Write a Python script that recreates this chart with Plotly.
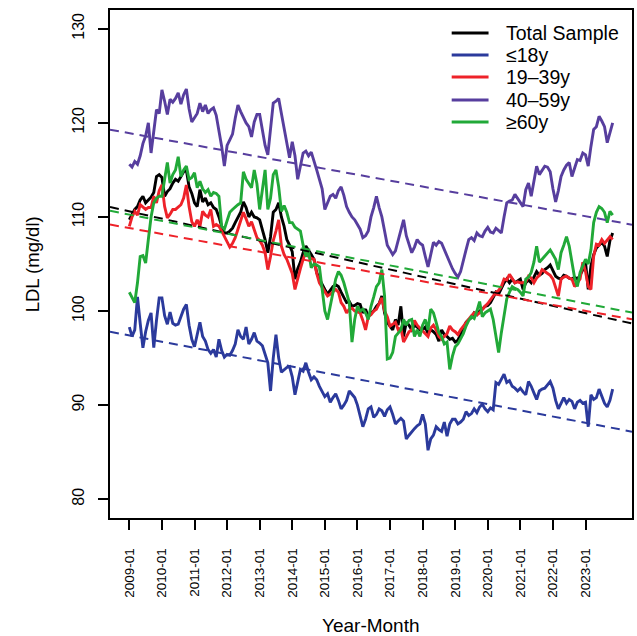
import numpy as np
import plotly.graph_objects as go

# ---------------- data (monthly means, 2009-01 .. 2023-11) ----------------
year_ticks = ["2009-01", "2010-01", "2011-01", "2012-01", "2013-01", "2014-01",
              "2015-01", "2016-01", "2017-01", "2018-01", "2019-01", "2020-01",
              "2021-01", "2022-01", "2023-01"]

total = [
    109.7, 110.3, 110.8, 111.1, 111.8, 112.2, 111.5, 111.8, 112.1, 112.6, 114.3, 114.5,  # 2009
    114.2, 112.2, 112.7, 113.0, 113.6, 114.0, 113.8, 114.3, 114.8, 115.0, 113.2, 112.5,  # 2010
    111.5, 111.1, 112.9, 111.6, 112.0, 111.3, 111.5, 111.0, 110.8, 110.0, 109.0, 108.3,  # 2011
    108.3, 108.5, 108.8, 109.4, 110.0, 110.5, 111.6, 111.0, 110.0, 110.5, 110.0, 109.9,  # 2012
    109.7, 108.7, 107.6, 106.2, 107.9, 110.5, 110.8, 111.5, 110.0, 109.0, 107.6, 107.0,  # 2013
    106.3, 103.4, 104.5, 105.2, 106.2, 106.9, 106.5, 106.0, 105.5, 104.1, 103.4, 102.8,  # 2014
    102.3, 101.8, 102.2, 102.6, 102.8, 102.6, 102.0, 101.5, 100.9, 101.0, 100.5, 100.6,  # 2015
    100.8, 100.7, 99.8, 100.2, 99.4, 99.8, 100.0, 100.5, 100.8, 101.6, 99.8, 98.8,       # 2016
    98.4, 98.0, 99.1, 98.5, 100.5, 97.3, 98.8, 98.5, 98.0, 98.5, 98.3, 98.0,             # 2017
    98.0, 98.3, 97.6, 98.0, 97.8, 97.5, 96.8, 98.0, 97.5, 97.3, 97.0, 97.1,              # 2018
    96.7, 96.9, 97.5, 98.2, 98.8, 99.1, 99.3, 99.8, 99.6, 100.0, 100.2, 100.5,           # 2019
    100.6, 100.9, 101.5, 102.0, 101.8, 102.5, 103.0, 103.4, 103.0, 103.4, 103.0, 103.2,  # 2020
    103.4, 102.3, 103.0, 103.3, 103.0, 103.6, 104.2, 103.8, 104.0, 104.4, 104.6, 104.9,  # 2021
    104.3, 103.7, 103.5, 103.4, 103.8, 103.7, 103.5, 103.4, 103.6, 103.4, 103.8, 104.4,  # 2022
    105.2, 102.3, 104.8, 106.0, 106.7, 107.0, 107.3, 106.9, 105.8, 107.5, 108.3,         # 2023
]

age_le18 = [
    98.3, 97.3, 98.0, 101.5, 98.7, 96.1, 97.8, 99.0, 99.8, 96.1, 99.0, 101.4,
    101.4, 99.5, 98.6, 99.9, 98.7, 98.5, 98.6, 99.5, 100.2, 100.7, 98.5, 97.0,
    96.2, 97.5, 98.8, 97.3, 96.8, 95.9, 95.5, 95.9, 95.1, 97.0, 95.8, 95.1,
    95.4, 95.3, 95.8, 96.5, 98.0, 97.3, 97.0, 98.3, 96.5, 97.0, 97.7, 96.8,
    96.6, 96.3, 95.5, 94.5, 91.5, 95.0, 97.5, 95.0, 93.5, 93.8, 94.0, 94.1,
    93.0, 91.1, 92.5, 93.8, 93.6, 94.5, 93.5, 92.7, 93.0, 92.7, 92.0, 91.5,
    90.9, 91.2, 90.3, 90.8, 91.2, 90.5, 89.6, 90.0, 90.5, 91.5, 91.2, 90.8,
    90.0, 88.8, 87.7, 88.5, 89.6, 89.8, 88.7, 89.0, 89.6, 89.4, 88.8, 89.5,
    89.8, 89.0, 88.0, 88.3, 88.6, 88.3, 86.4, 86.8, 87.2, 87.5, 87.8, 88.0,
    89.0, 88.0, 85.2, 86.4, 86.8, 87.7, 87.4, 87.2, 88.2, 86.7, 88.0, 88.5,
    88.5, 88.0, 88.2, 88.5, 89.3, 88.9, 89.1, 89.6, 89.2, 89.8, 90.1, 89.6,
    89.3, 89.7, 89.5, 92.4, 92.2, 92.8, 93.3, 92.4, 92.6, 92.0, 91.8, 91.5,
    91.8, 91.4, 91.1, 92.5, 92.0, 91.3, 90.6, 91.5, 91.7, 91.8, 92.2, 92.5,
    91.8, 90.5, 89.6, 90.2, 90.8, 90.2, 90.6, 90.4, 89.6, 90.3, 90.5, 90.2,
    90.3, 87.7, 91.1, 90.6, 90.8, 91.7, 91.0, 90.2, 89.8, 90.5, 91.7,
]

age_19_39 = [
    109.0, 110.0, 110.6, 110.2, 111.3, 111.0, 110.8, 111.0, 111.0, 112.2, 111.5, 112.8,
    113.4, 111.1, 109.9, 110.3, 110.8, 110.8, 111.1, 111.3, 112.0, 113.4, 111.1, 109.5,
    109.0, 109.7, 109.0, 110.6, 110.2, 110.0, 110.8, 109.0, 109.2, 109.0, 108.5, 107.9,
    107.3, 106.8, 107.2, 107.8, 108.7, 109.5, 110.5, 109.8, 109.0, 109.5, 108.7, 107.8,
    107.5, 107.0, 106.2, 104.4, 105.8, 107.5, 108.5, 109.7, 106.9, 106.0, 105.5, 104.8,
    104.0, 102.3, 103.5, 104.5, 105.5, 106.2, 105.8, 105.6, 105.5, 104.0, 103.0, 102.5,
    102.0, 101.6, 101.8, 102.1, 102.3, 102.0, 100.9, 100.5, 99.8, 100.2, 100.3, 100.0,
    99.9, 99.8, 99.0, 98.0, 99.4, 99.6, 100.0, 100.2, 100.8, 101.4, 100.0, 99.4,
    98.4, 98.6, 98.8, 98.0, 98.2, 96.7, 97.3, 97.8, 98.0, 99.0, 98.5, 98.2,
    98.0, 97.6, 97.3, 98.2, 98.5, 98.0, 97.3, 97.0, 97.3, 97.6, 98.4, 98.0,
    97.8, 97.5, 98.0, 98.4, 98.8, 99.1, 99.5, 99.8, 99.6, 99.8, 100.2, 100.5,
    100.8, 101.2, 101.5, 102.0, 102.2, 102.6, 103.4, 103.3, 103.9, 103.5, 103.0, 103.1,
    103.0, 103.0, 103.1, 103.7, 103.5, 103.0, 103.5, 103.8, 104.4, 104.2, 104.0, 103.8,
    103.4, 102.5, 101.6, 103.4, 103.6, 103.7, 103.5, 103.4, 102.6, 103.0, 103.4, 105.2,
    104.2, 102.6, 102.3, 105.8, 107.1, 107.0, 107.6, 107.2, 107.5, 107.9, 107.6,
]

age_40_59 = [
    115.6, 115.3, 115.9, 115.6, 116.5, 117.8, 118.6, 120.0, 116.8, 119.2, 121.4, 121.0,
    123.5, 122.3, 120.9, 122.5, 122.2, 122.6, 123.2, 122.0, 123.0, 123.6, 121.5, 120.1,
    120.5, 121.0, 122.1, 121.2, 121.9, 121.0, 121.4, 121.6, 120.8, 119.3, 117.5, 115.4,
    117.6, 118.2, 118.8, 120.5, 121.9, 121.2, 120.6, 120.0, 119.6, 118.5, 120.1, 120.9,
    120.9, 119.2, 117.6, 116.6, 119.5, 122.1, 122.3, 122.6, 121.0, 119.3, 118.0, 116.3,
    118.0, 116.5, 114.0, 115.5, 116.8, 117.0, 116.5, 116.9, 115.8, 115.0, 114.0, 113.0,
    110.8, 111.5, 112.2, 112.4, 112.0, 112.8, 113.2, 112.3, 111.1, 110.5, 110.0, 109.7,
    109.2, 108.7, 107.8, 108.0, 108.5, 110.0, 111.0, 112.2, 111.0, 110.0, 108.5, 107.0,
    106.5, 106.0, 106.4, 107.5, 108.5, 109.7, 108.0, 107.0, 106.2, 106.8, 107.6, 107.2,
    107.0, 105.8, 104.7, 106.0, 107.3, 107.0, 107.4, 107.2, 106.5, 106.0, 105.2, 104.5,
    104.0, 103.6, 104.2, 105.5, 106.5, 107.6, 107.8, 107.5, 108.3, 108.0, 107.9, 108.5,
    108.9, 108.4, 108.3, 108.8, 108.5, 108.3, 110.0, 111.5, 111.7, 111.8, 112.4, 112.0,
    111.5, 111.1, 112.9, 113.6, 112.2, 113.8, 115.4, 114.5, 115.0, 115.4, 115.3, 114.8,
    113.0, 111.6, 112.8, 114.3, 115.0, 115.5, 115.8, 114.3, 115.2, 116.1, 116.0, 116.8,
    116.6, 115.4, 117.5, 119.3, 119.6, 120.7, 120.2, 119.6, 117.9, 119.0, 120.0,
]

age_ge60 = [
    102.0, 101.4, 100.9, 103.0, 105.8, 105.9, 105.1, 107.6, 110.0, 111.5, 112.0, 112.2,
    112.2, 114.0, 115.8, 113.6, 114.5, 115.0, 116.4, 114.3, 115.0, 115.4, 114.0, 114.2,
    114.7, 113.1, 113.8, 113.0, 112.6, 112.9, 112.2, 112.6, 112.5, 112.2, 109.0, 108.7,
    109.5, 110.5, 110.8, 111.1, 111.3, 111.5, 114.8, 114.0, 113.5, 113.1, 115.0, 113.5,
    110.8, 113.0, 115.0, 110.8, 112.0, 114.5, 115.0, 113.2, 110.6, 111.2, 110.5, 109.4,
    109.4, 108.9, 108.7, 108.5, 107.0, 105.8, 106.3, 104.6, 105.0, 104.9, 104.7, 102.0,
    100.0, 99.1, 100.5, 101.8, 103.4, 104.2, 103.8, 103.0, 102.0, 100.9, 96.7, 99.1,
    100.5, 100.0, 100.2, 99.8, 99.1, 100.5, 101.5, 102.6, 103.0, 104.4, 101.6, 94.9,
    95.0, 95.6, 97.3, 97.6, 98.0, 99.1, 98.5, 99.0, 99.1, 97.3, 98.0, 97.3,
    98.5, 99.1, 98.0, 100.2, 99.8, 98.8, 97.7, 97.3, 96.5, 96.7, 93.8, 95.2,
    96.2, 96.5, 97.0, 97.6, 98.4, 99.0, 99.4, 99.2, 100.0, 101.0, 99.4, 99.8,
    100.0, 100.2, 99.1, 97.3, 95.6, 97.7, 99.5, 101.3, 102.0, 102.6, 102.4, 102.3,
    102.0, 101.6, 103.4, 103.6, 104.1, 105.2, 106.9, 105.2, 105.5, 105.8, 106.2, 106.5,
    106.0, 105.5, 104.4, 106.2, 107.0, 107.9, 106.9, 105.2, 103.5, 102.6, 104.1, 104.8,
    105.5, 105.0, 106.5, 109.4, 110.5, 111.1, 110.9, 110.5, 109.4, 110.6, 110.2,
]

series_names = ["Total Sample", "\u226418y", "19\u201339y", "40\u201359y", "\u226560y"]
series_values = [total, age_le18, age_19_39, age_40_59, age_ge60]
series_colors = ["#000000", "#2B3A9C", "#EE2229", "#573E9E", "#21A938"]

# ---------------- figure ----------------
W, H = 637, 636
ML, MR, MT, MB = 110, 3, 10, 118
PW, PH = W - ML - MR, H - MT - MB


def px_x(px):
    return (px - ML) / PW


def px_y(py):
    return (H - MB - py) / PH


n = len(total)
t = np.arange(1, n + 1)
pad = 0.04 * (n - 1)
x_range = [1 - pad, n + pad]
tick_pos = [1 + 12 * i for i in range(len(year_ticks))]

fig = go.Figure()

for name, vals, col in zip(series_names, series_values, series_colors):
    fig.add_trace(go.Scatter(x=t, y=vals, mode="lines", name=name, showlegend=False,
                             line=dict(color=col, width=2.9)))

for name, vals, col in zip(series_names, series_values, series_colors):
    b, a = np.polyfit(t, np.array(vals), 1)
    xs = np.array(x_range)
    fig.add_trace(go.Scatter(x=xs, y=a + b * xs, mode="lines", showlegend=False,
                             line=dict(color=col, width=2.0, dash="9px,6px"),
                             hoverinfo="skip"))

FONT = "Liberation Sans, Arial, Helvetica, sans-serif"

# legend drawn as line samples + text (R-style, no box)
leg_rows = [33, 55, 77, 100, 122]
for name, col, ry in zip(series_names, series_colors, leg_rows):
    fig.add_shape(type="line", xref="paper", yref="paper",
                  x0=px_x(453), x1=px_x(490), y0=px_y(ry), y1=px_y(ry),
                  line=dict(color=col, width=3))
    fig.add_annotation(text=name, xref="paper", yref="paper",
                       x=px_x(506), y=px_y(ry), xanchor="left", yanchor="middle",
                       showarrow=False, font=dict(size=19.5, family=FONT, color="black"))

fig.update_layout(
    width=W, height=H,
    margin=dict(l=ML, r=MR, t=MT, b=MB),
    paper_bgcolor="white", plot_bgcolor="white",
    font=dict(family=FONT, color="black"),
    showlegend=False,
)

fig.update_xaxes(range=x_range, tickvals=tick_pos, ticktext=year_ticks,
                 tickangle=-90, tickfont=dict(size=13.5, family=FONT),
                 ticks="outside", ticklen=10, tickwidth=1.6, tickcolor="black",
                 showline=True, mirror=True, linecolor="black", linewidth=1.8,
                 showgrid=False, zeroline=False, ticklabelstandoff=13)
fig.update_yaxes(range=[78, 132], tickvals=[80, 90, 100, 110, 120, 130],
                 tickangle=-90, tickfont=dict(size=16, family=FONT),
                 ticks="outside", ticklen=10, tickwidth=1.6, tickcolor="black",
                 showline=True, mirror=True, linecolor="black", linewidth=1.8,
                 showgrid=False, zeroline=False, ticklabelstandoff=8)

fig.add_annotation(text="Year-Month", xref="paper", yref="paper",
                   x=0.5, y=px_y(625), xanchor="center", yanchor="middle",
                   showarrow=False, font=dict(size=19, family=FONT))
fig.add_annotation(text="LDL (mg/dl)", xref="paper", yref="paper",
                   x=px_x(32), y=0.5, xanchor="center", yanchor="middle",
                   textangle=-90, showarrow=False, font=dict(size=18.5, family=FONT))

fig.write_html("out.html")
